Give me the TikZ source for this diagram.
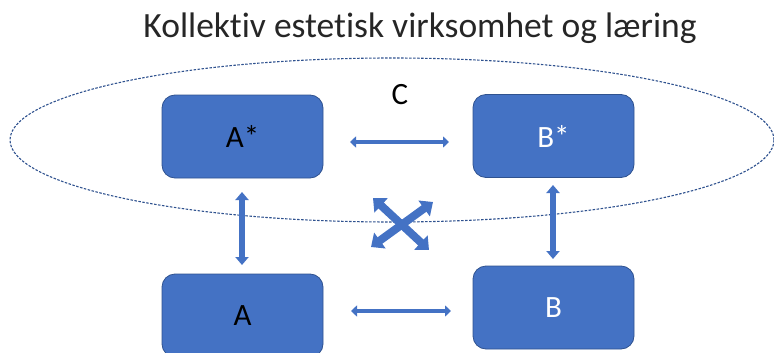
\documentclass[tikz,border=0pt]{standalone}
\usepackage{fontspec}
\setmainfont{Carlito}[Ligatures=NoCommon]
\usetikzlibrary{arrows.meta}
\definecolor{boxblue}{HTML}{4472C4}
\definecolor{edgeblue}{HTML}{2F528F}
\definecolor{titlegray}{HTML}{262626}
\tikzset{
  blk/.style={draw=edgeblue, line width=0.8pt, fill=boxblue, rounded corners=13pt,
    minimum width=161pt, minimum height=83pt, inner sep=0pt, font=\fontsize{31}{34}\selectfont},
  thinarrow/.style={draw=boxblue, line width=3.4pt,
    {Triangle[width=11pt,length=6pt]}-{Triangle[width=11pt,length=6pt]}},
  midarrow/.style={draw=boxblue, line width=5.5pt,
    {Triangle[width=13pt,length=8pt]}-{Triangle[width=13pt,length=8pt]}},
  bigarrow/.style={draw=boxblue, line width=8pt,
    {Triangle[width=19pt,length=11pt]}-{Triangle[width=19pt,length=11pt]}},
}
\begin{document}
\begin{tikzpicture}[x=1pt,y=-1pt]
\useasboundingbox (0,0) rectangle (774,353);
\clip (0,0) rectangle (774,353);
\node[font=\fontsize{35.5}{38}\selectfont, text=titlegray, anchor=base, inner sep=0pt] (title) at (420,37.5) {Kollektiv estetisk virksomhet og læring};
\draw[edgeblue, line width=1.1pt, dash pattern=on 2.5pt off 1.5pt] (392,140) ellipse [x radius=382, y radius=82];
\node[blk, text=black] (As) at (242.5,136.5) {A*};
\node[blk, text=white] (Bs) at (553.5,136) {B*};
\node[blk, text=black] (A) at (242.5,315.5) {A};
\node[blk, text=white] (B) at (553.5,307.5) {B};
\node[font=\fontsize{31}{34}\selectfont, text=black] (C) at (400,95) {C};
\coordinate (h1a) at (350,142); \coordinate (h1b) at (449,142);
\coordinate (h2a) at (351,311); \coordinate (h2b) at (451,311);
\coordinate (v1a) at (242,192); \coordinate (v1b) at (242,265);
\coordinate (v2a) at (553,185); \coordinate (v2b) at (553,259);
\coordinate (x1a) at (373,198); \coordinate (x1b) at (429,250);
\coordinate (x2a) at (433,202); \coordinate (x2b) at (371,247);
\draw[thinarrow] (h1a) -- (h1b);
\draw[thinarrow] (h2a) -- (h2b);
\draw[midarrow] (v1a) -- (v1b);
\draw[midarrow] (v2a) -- (v2b);
\draw[bigarrow] (x1a) -- (x1b);
\draw[bigarrow] (x2a) -- (x2b);
\end{tikzpicture}
\end{document}
